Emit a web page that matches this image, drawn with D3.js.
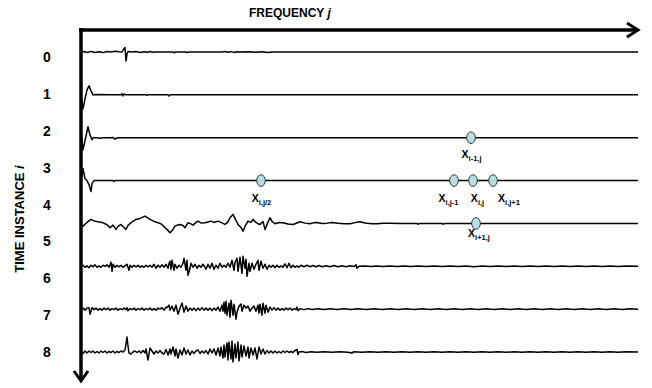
<!DOCTYPE html>
<html>
<head>
<meta charset="utf-8">
<script src="https://cdn.jsdelivr.net/npm/d3@7"></script>
<style>
  body { margin: 0; background: #fff; }
  svg { display: block; font-family: Arial, "Liberation Sans", sans-serif; }
</style>
</head>
<body>
<div id="chart"></div>
<script>
// time instance labels on the left (0..8)
const timeLabels = ["0", "1", "2", "3", "4", "5", "6", "7", "8"];

// one waveform per drawn row: [frequency bin j, amplitude]
const wave0 = [[1,0],[4,0.5],[7,-0.5],[11,0.6],[15,-0.4],[19,0.3],[23,-0.6],[27,0.5],[31,0],[35,0.8],[39,0.3],[42,0],[44,3.5],[45,4.5],[46,-9],[47,-2],[48,0.5],[52,0],[56,0.4],[60,-0.5],[64,0.3],[68,-0.3],[70,0.6],[72,-0.3],[76,0],[93,0],[94,-0.7],[96,0],[106,0],[107,-0.6],[109,0],[142,0],[145,0.4],[148,-0.3],[151,0.4],[154,-0.4],[157,0.3],[160,0],[170,0.3],[176,-0.3],[182,0.3],[188,-0.4],[192,0],[558,0]];
const wave1 = [[1,0],[2,-8],[3,-14],[5,-4],[7,5],[9,9],[11,4],[13,0],[20,0.3],[30,0],[41,0],[42,1.2],[43,-1],[44,0.8],[46,0],[66,0],[67,-0.5],[68,0],[88,0],[89,-1.2],[90,0],[558,0]];
const wave2 = [[1,6],[3,-12],[5,-3],[8,11],[10,3],[12,-2],[13,0],[17,0],[20,-0.5],[23,0],[30,0],[33,0.3],[35,-1.5],[37,-0.3],[38,0],[558,0]];
const wave3 = [[1,0],[2,5],[3,12],[5,2],[7,0],[9,-4],[11,-11],[12,-3],[14,0],[33,0],[34,-0.8],[35,0],[558,0]];
const wave4 = [[1,-1],[3,-2.7],[7,1],[11,4],[14,2.5],[18,1.7],[22,1],[25,-0.3],[28,-2],[30,-4.3],[33,-1.7],[36,-6],[38,-3],[41,-1],[43,-3],[46,-6],[48,-2],[51,0.7],[56,4],[60,5],[65,7.3],[70,4],[74,2],[78,0.7],[82,-1],[85,-4.3],[88,-7],[90,-9.3],[93,-6],[95,-2.7],[98,-1.5],[100,-1],[103,-2],[105,-4.3],[108,0.7],[111,-0.5],[113,-1.7],[116,1],[118,2.3],[121,0.5],[125,0.7],[128,1.5],[131,2.3],[134,1],[138,2.3],[142,0.5],[145,-1],[148,1.5],[150,5.7],[153,9],[155,5],[158,-1],[161,-4],[163,-7.7],[165,-3],[168,2.3],[171,1],[173,4],[176,1],[178,-0.3],[180,-1],[183,2],[185,-6],[187,-1],[190,5.7],[192,2],[195,-0.3],[199,1],[203,0.7],[208,-0.5],[213,-1],[217,0.5],[220,1.7],[225,0.3],[230,-0.3],[234,0.8],[237,1],[242,0],[247,0.3],[252,1],[258,0.2],[264,-0.3],[270,-0.3],[275,0.8],[280,1.7],[285,0.5],[292,-0.3],[297,-0.3],[303,0.2],[310,0.3],[320,0],[337,0],[338,-0.8],[340,0],[362,0],[363,-0.8],[365,0],[558,0]];
const wave5 = [[1,0],[3,1],[5,-1],[7,0.5],[9,-1.5],[11,1],[13,-0.5],[15,1.5],[17,-1],[19,0.5],[21,-1],[23,1],[25,0],[27,1.5],[29,-1],[31,4],[32,-5],[33,2],[35,-1],[37,1],[39,-0.5],[41,1],[43,-1],[45,0.5],[47,2],[49,-4],[50,1],[52,-1],[54,1],[56,-0.5],[58,1],[60,-1],[62,0.5],[64,-1],[66,1],[68,-0.5],[70,1],[72,-1],[74,2],[76,-2],[78,1],[80,-1],[82,1.5],[84,-1],[86,2],[88,-2],[89,3],[90,5],[91,-3],[92,6],[94,-4],[95,2],[97,-2],[99,1],[101,-1],[103,3],[104,8],[106,-4],[107,6],[108,-9],[110,-2],[111,3],[113,-1],[115,2],[117,-2],[119,1],[121,-1],[123,2],[125,-1],[126,-3],[128,2],[130,-2],[132,3],[134,-3],[136,1],[138,-2],[140,3],[142,-1],[144,1],[146,-1],[148,3],[150,-1],[152,6],[154,-4],[155,4],[157,8],[158,-5],[160,9],[162,-7],[163,10],[165,-2],[166,7],[167,-10],[169,3],[170,-5],[172,3],[174,-3],[176,2],[178,6],[179,-4],[181,5],[183,-2],[185,2],[187,-3],[189,1],[191,-1],[193,1],[195,-1.5],[197,1],[199,-1],[201,0.5],[203,-1],[205,2.5],[207,-1.5],[209,3],[211,-1.5],[213,1],[215,-1],[217,0.5],[219,-1],[221,1],[224,-0.5],[227,1],[230,-0.5],[233,0.8],[236,-0.5],[239,0.8],[242,-0.5],[246,0.5],[250,-0.5],[254,0.8],[258,-0.5],[262,0.5],[266,-0.5],[270,0.5],[274,-0.3],[276,1.5],[277,-2],[279,0],[285,0.3],[291,-0.3],[297,0.3],[303,-0.3],[310,0.3],[317,-0.3],[324,0.3],[331,-0.3],[338,0.3],[346,-0.3],[354,0.3],[362,-0.3],[370,0.3],[378,-0.3],[386,0.3],[394,-0.4],[402,0.3],[410,-0.3],[418,0.3],[426,-0.3],[434,0.3],[442,-0.3],[450,0.3],[458,-0.3],[466,0.3],[474,-0.3],[482,0.3],[490,-0.3],[498,0.3],[506,-0.3],[514,0.3],[522,-0.3],[530,0.3],[538,-0.3],[546,0.3],[558,0]];
const wave6 = [[1,0],[3,1],[5,-1],[7,1],[9,1.5],[10,-5],[11,-2],[12,1.5],[14,-0.5],[16,1],[18,-1],[20,0.5],[22,-1],[24,1],[26,-0.5],[28,1],[30,-1],[32,0.5],[34,-0.5],[36,1],[38,-1],[40,0.5],[42,-0.5],[44,1],[46,-0.5],[47,1.5],[48,-1.5],[50,0.5],[52,-0.5],[54,1],[56,-1],[58,0.5],[60,-0.5],[62,1],[64,-1],[66,0.5],[68,-0.5],[70,1],[72,-1],[74,0.5],[76,-1],[78,1],[80,0],[82,1.5],[84,-1],[86,2],[87,1.5],[89,4],[90,-1],[92,3],[94,-2],[96,4],[98,-5],[100,1],[102,6],[104,-3],[106,3],[108,-2],[110,1],[112,-1],[114,1],[116,-1.5],[118,1],[120,-1],[122,1.5],[124,-1],[126,1],[128,-1],[130,1],[132,-1.5],[134,1],[136,-1],[138,2],[140,-2],[142,4],[143,-2],[144,7],[145,-4],[146,8],[147,-6],[149,6],[150,-8],[151,9],[153,-6],[154,5],[156,-10],[157,-3],[159,3],[161,5],[162,-2],[164,4],[166,1],[168,3],[170,-2],[172,1],[174,3],[176,-2],[178,4],[179,-4],[180,5],[182,-6],[183,6],[185,-4],[186,4],[188,-3],[190,2],[192,-1],[194,1.5],[196,-1],[198,1],[200,-1],[202,0.5],[204,-1],[206,1],[208,-0.5],[210,1],[212,-1],[214,0.5],[216,-0.5],[217,2],[218,-1.5],[220,0.5],[224,-0.5],[228,0.5],[232,-0.3],[238,0.3],[244,-0.3],[250,0.3],[257,-0.3],[264,0.3],[271,-0.3],[278,0.3],[286,-0.3],[294,0.3],[302,-0.3],[310,0.3],[318,-0.3],[326,0.3],[334,-0.3],[342,0.3],[350,-0.3],[358,0.3],[366,-0.3],[374,0.3],[382,-0.3],[390,0.3],[398,-0.3],[406,0.3],[414,-0.3],[422,0.3],[430,-0.3],[438,0.3],[446,-0.3],[454,0.3],[462,-0.3],[470,0.3],[478,-0.3],[486,0.3],[494,-0.3],[502,0.3],[510,-0.3],[518,0.3],[526,-0.3],[534,0.3],[542,-0.3],[550,0.3],[558,0]];
const wave7 = [[1,0],[3,-1.5],[5,1],[7,-1],[9,1],[11,-0.5],[13,1],[15,-1],[17,0.5],[19,-1],[21,1],[23,-0.5],[25,1],[27,-1],[29,0.5],[31,-0.5],[33,1],[35,-1],[37,0.5],[39,-0.5],[41,1],[43,0],[45,2],[46,8],[47,15],[48,6],[49,-1],[51,-2],[53,0],[55,1],[57,-0.5],[59,1],[61,-1],[63,1.5],[65,-1],[66,3],[68,-8],[69,-2],[70,4],[72,1],[74,-2],[76,1],[78,-1],[80,1.5],[82,-1],[84,-2],[86,2.5],[88,-3],[90,3],[91,-2],[93,5],[95,-4],[96,3],[98,-6],[100,2],[102,-3],[104,4],[106,-2],[108,2],[110,-3],[112,1],[114,-1.5],[116,1],[118,2],[120,-1.5],[122,1],[124,-1],[126,1.5],[128,-2],[130,3],[132,-1],[134,3],[136,-3],[138,4],[140,-4],[141,5],[143,-6],[144,7],[145,-5],[147,9],[148,-8],[149,10],[151,-7],[152,11],[153,-10],[155,8],[156,-6],[158,10],[159,-9],[161,7],[162,-5],[164,6],[166,-4],[168,5],[169,-6],[171,4],[173,-3],[175,4],[177,-7],[179,5],[181,-2],[183,3],[185,-2],[187,1.5],[189,-1],[191,1],[193,-1],[195,1],[197,-1],[199,0.5],[201,-1],[203,1],[205,-0.5],[207,1],[209,-0.5],[211,0.5],[213,-0.5],[215,1.5],[217,2.5],[218,-2.5],[219,0],[222,0.5],[226,-0.5],[231,0.3],[237,-0.3],[244,0.3],[252,-0.3],[260,0.3],[268,-0.3],[272,-1],[274,0.3],[282,-0.3],[290,0.3],[298,-0.3],[306,0.3],[314,-0.3],[322,0.3],[330,-0.3],[338,0.3],[346,-0.3],[354,0.3],[362,-0.3],[370,0.3],[378,-0.3],[386,0.3],[394,-0.3],[402,0.3],[410,-0.3],[418,0.3],[426,-0.3],[434,0.3],[442,-0.3],[450,0.3],[458,-0.3],[466,0.3],[474,-0.3],[482,0.3],[490,-0.3],[498,0.3],[506,-0.3],[514,0.3],[522,-0.3],[530,0.3],[538,-0.3],[546,0.3],[558,0]];
const waves = [wave0, wave1, wave2, wave3, wave4, wave5, wave6, wave7];

// marked coefficients: row index and frequency bin
const points = [
  { row: 2, j: 391 },
  { row: 3, j: 181 },
  { row: 3, j: 374 },
  { row: 3, j: 393 },
  { row: 3, j: 413 },
  { row: 4, j: 396 }
];
// labels: row, frequency bin of label centre, subscript
const pointLabels = [
  { row: 2, j: 391.5, sub: "i-1,j" },
  { row: 3, j: 181.5, sub: "i,j/2" },
  { row: 3, j: 368.5, sub: "i,j-1" },
  { row: 3, j: 397.5, sub: "i,j" },
  { row: 3, j: 429, sub: "i,j+1" },
  { row: 4, j: 399, sub: "i+1,j" }
];
const labelDy = { 2: 20, 3: 21, 4: 14 };

const width = 652, height = 388;
const svg = d3.select("#chart").append("svg")
  .attr("width", width)
  .attr("height", height);

const x = d3.scaleLinear().domain([1, 558]).range([81, 638]);
const rowY = d3.scaleLinear().domain([0, waves.length - 1]).range([52, 352]);
const amp = d3.scaleLinear().domain([-10, 10]).range([10, -10]);
const labelY = d3.scalePoint().domain(timeLabels).range([57, 352]);

// waveforms
const line = d3.line().x(d => x(d[0])).y(d => amp(d[1]));
svg.append("g")
  .selectAll("path")
  .data(waves)
  .join("path")
  .attr("transform", (d, i) => `translate(0,${rowY(i)})`)
  .attr("d", line)
  .attr("fill", "none")
  .attr("stroke", "#000")
  .attr("stroke-width", 1.5)
  .attr("stroke-linejoin", "round");

// axes with arrows
svg.append("path")
  .attr("d", `M79,30H638`)
  .attr("stroke", "#000").attr("stroke-width", 3.5).attr("fill", "none");
svg.append("path")
  .attr("d", `M627,23L638,30L627,37`)
  .attr("stroke", "#000").attr("stroke-width", 3).attr("fill", "none");
svg.append("path")
  .attr("d", `M81,28V380`)
  .attr("stroke", "#000").attr("stroke-width", 3.5).attr("fill", "none");
svg.append("path")
  .attr("d", `M74,371L81,381L88,371`)
  .attr("stroke", "#000").attr("stroke-width", 3).attr("fill", "none");

// axis titles
const title = svg.append("text")
  .attr("x", 249).attr("y", 17)
  .attr("font-size", 12).attr("font-weight", "bold");
title.append("tspan").text("FREQUENCY ");
title.append("tspan").attr("font-style", "italic").text("j");

const ytitle = svg.append("text")
  .attr("transform", "translate(24,219) rotate(-90)")
  .attr("text-anchor", "middle")
  .attr("font-size", 13).attr("font-weight", "bold");
ytitle.append("tspan").text("TIME INSTANCE ");
ytitle.append("tspan").attr("font-style", "italic").text("i");

// time instance labels
svg.append("g")
  .selectAll("text")
  .data(timeLabels)
  .join("text")
  .attr("x", 47)
  .attr("y", d => labelY(d))
  .attr("dy", "0.36em")
  .attr("text-anchor", "middle")
  .attr("font-size", 14)
  .attr("font-weight", "bold")
  .text(d => d);

// coefficient markers
svg.append("g")
  .selectAll("ellipse")
  .data(points)
  .join("ellipse")
  .attr("cx", d => x(d.j))
  .attr("cy", d => rowY(d.row))
  .attr("rx", 4.3)
  .attr("ry", 5.8)
  .attr("fill", "#b9dde2")
  .attr("stroke", "#2b3a3c")
  .attr("stroke-width", 1);

const lbl = svg.append("g")
  .selectAll("text")
  .data(pointLabels)
  .join("text")
  .attr("x", d => x(d.j))
  .attr("y", d => rowY(d.row) + labelDy[d.row])
  .attr("text-anchor", "middle")
  .attr("font-weight", "bold");
lbl.append("tspan").attr("font-size", 10.5).text("X");
lbl.append("tspan").attr("font-size", 7.5).attr("dy", 3).text(d => d.sub);
</script>
</body>
</html>
